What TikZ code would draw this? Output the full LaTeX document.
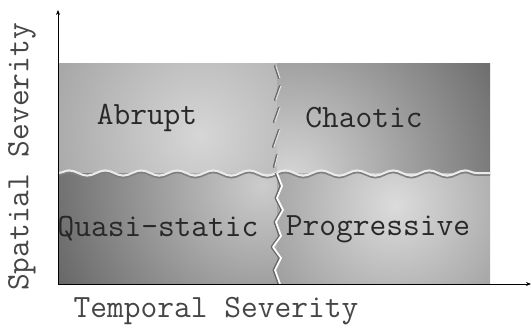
\documentclass[tikz,border=0pt]{standalone}
\usepackage{fontspec}
\usetikzlibrary{decorations.pathmorphing,arrows.meta}
\definecolor{txt}{RGB}{40,40,40}
\definecolor{axtxt}{RGB}{70,70,70}
\begin{document}
\begin{tikzpicture}[x=1pt,y=-1pt,
  lbl/.style={font=\ttfamily\fontsize{32.5}{32.5}\selectfont, text=txt, inner sep=0pt},
  axlbl/.style={font=\ttfamily\fontsize{32.5}{32.5}\selectfont, text=axtxt, inner sep=0pt},
  axis/.style={line width=0.9pt, -{Stealth[length=5pt,width=4pt]}},
  crk/.style={decorate, decoration={snake, segment length=36pt, amplitude=2.6pt}}]
\useasboundingbox (0,0) rectangle (532,329);
% quadrant shadings
\begin{scope}
  \clip (58,63) rectangle (277,173);
  \fill[black!36] (58,63) rectangle (277,173);
  \shade[inner color=black!16, outer color=black!36] (200,135) circle (170);
\end{scope}
\begin{scope}
  \clip (277,63) rectangle (490,173);
  \fill[black!58] (277,63) rectangle (490,173);
  \shade[inner color=black!16, outer color=black!58] (290,178) circle (235);
\end{scope}
\begin{scope}
  \clip (58,173) rectangle (277,284);
  \fill[black!62] (58,173) rectangle (277,284);
  \shade[inner color=black!20, outer color=black!62] (262,185) circle (240);
\end{scope}
\begin{scope}
  \clip (277,173) rectangle (490,284);
  \fill[black!42] (277,173) rectangle (490,284);
  \shade[inner color=black!14, outer color=black!42] (395,205) circle (165);
\end{scope}
% horizontal crack
\draw[black!50, line width=1.8pt, crk] (58,175) -- (490,175);
\draw[black!8, line width=2pt, crk] (58,173) -- (490,173);
% vertical crack, upper part
\foreach \a/\b in {{275,66}/{279,78},{280,86}/{275,100},{279,108}/{274,122},{279,130}/{273,147},{277,155}/{274,167}}{
  \draw[black!60, line width=2.2pt, line cap=round] (\a) -- (\b);
  \draw[black!12, line width=1.2pt, line cap=round] ([xshift=0.9pt]\a) -- ([xshift=0.9pt]\b);
}
% vertical crack, lower part
\draw[black!60, line width=2.8pt, line join=round]
  (276,173) -- (281,186) -- (276,198) -- (282,210) -- (275,222) -- (280,236) -- (272,247) -- (280,258) -- (274,270) -- (279,284);
\draw[white, line width=1.8pt, line join=round]
  (277,173) -- (282,186) -- (277,198) -- (283,210) -- (276,222) -- (281,236) -- (273,247) -- (281,258) -- (275,270) -- (280,284);
% axes
\coordinate (o) at (58,284);
\coordinate (ytop) at (58,10);
\coordinate (xend) at (531,284);
\draw[axis] (o) -- (ytop);
\draw[axis] (o) -- (xend);
% labels
\node[lbl] (abrupt) at (147,118) {Abrupt};
\node[lbl] (chaotic) at (364,118) {Chaotic};
\node[lbl] (quasi) at (158,229) {Quasi-static};
\node[lbl] (prog) at (378,229) {Progressive};
\node[axlbl] (tsev) at (216,311) {Temporal Severity};
\node[axlbl, rotate=90] (ssev) at (22,157) {Spatial Severity};
\end{tikzpicture}
\end{document}
